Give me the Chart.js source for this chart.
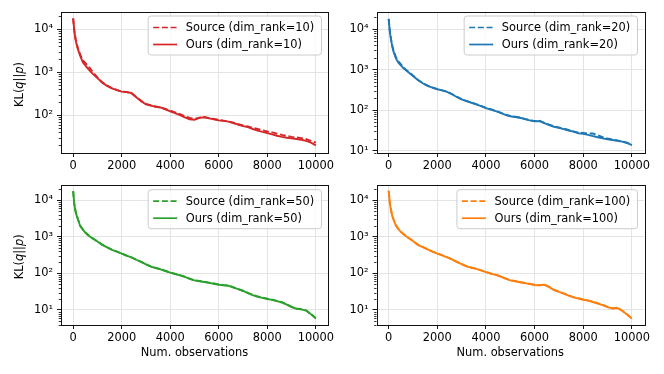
<!DOCTYPE html>
<html><head><meta charset="utf-8">
<script src="https://cdn.jsdelivr.net/npm/chart.js@4/dist/chart.umd.min.js"></script>
<style>
html,body{margin:0;padding:0;background:#fff;}
#wrap{position:relative;width:664px;height:374px;overflow:hidden;background:#fff;}
canvas{position:absolute;}
</style></head><body><div id="wrap">
<canvas id="c1" width="344" height="172" style="left:0;top:0;width:344px;height:172px"></canvas>
<canvas id="c3" width="344" height="202" style="left:0;top:172px;width:344px;height:202px"></canvas>
<canvas id="c2" width="332" height="172" style="left:332px;top:0;width:332px;height:172px"></canvas>
<canvas id="c4" width="332" height="202" style="left:332px;top:172px;width:332px;height:202px"></canvas>
</div>
<script>
// ---- data ----
const OBS = [0,50,100,150,200,300,400,500,600,700,800,
  1000,1200,1400,1600,1800,2000,2200,2400,2600,2800,
  3000,3200,3400,3600,3800,4000,4200,4400,4600,4800,
  5000,5200,5400,5600,5800,6000,6200,6400,6600,6800,
  7000,7200,7400,7600,7800,8000,8200,8400,8600,8800,
  9000,9200,9400,9600,9800,10000];
const X_TICKS = [0,2000,4000,6000,8000,10000];
const Y_TICKS = [10,100,1000,10000];
const RANKS = [10,20,50,100];
const X_TITLE = 'Num. observations';
const Y_TITLE_PARTS = [['KL(',false],['q',true],['||',false],['p',true],[')',false]];

const SOURCE_10 = [18000,9300,6000,4500,3600,2500,1900,1650,1420,1230,1030,
  760,585,490,430,388,358,347,328,268,218,
  184,171,160,154,140,128,117,106,96,87,
  82,88,91,86,82,78,75,72,67,62,
  58,55,51,48,45,42,40,37.5,35,33,
  31.5,30.5,29.5,28,25.5,23];
const OURS_10 = [18000,9000,5800,4300,3400,2350,1700,1450,1230,1060,930,
  730,570,485,425,385,355,345,330,262,212,
  180,168,157,152,137,124,112,101,90,81,
  79,87,90,85,81,76,74,71,66,61,
  56,53,48,44,41,38.5,36,33.5,31.5,30,
  29,28,27,25.5,23,20];
const SOURCE_20 = [18000,8800,5600,3900,3000,2050,1620,1380,1170,1020,910,
  720,565,470,405,364,333,310,288,252,216,
  189,170,155,142,128,115,106,96,87,78,
  72,69,66,61,57,54,55,49,44,40,
  37.5,35,32.5,30,28,27.5,26.5,26.5,24,21.5,
  20,19,18,17,15.8,14];
const OURS_20 = [18000,8500,5400,3700,2800,1900,1500,1280,1100,980,880,
  700,555,465,400,360,330,308,285,248,212,
  186,168,153,140,126,113,104,95,86,77,
  71,68,65,60,56,53,54,48,43,39,
  36.5,34,31.5,29.5,27,26,24.5,23,21.5,20.2,
  19.2,18.4,17.6,16.8,15.5,13.8];
const SOURCE_50 = [17500,7700,5000,3800,3000,1980,1600,1340,1150,1020,915,
  750,605,515,443,392,347,307,275,237,207,
  178,154,141,130,117,106,97,89,81,72,
  65,62,59,56,53,50,48,46.5,42,37.5,
  33.5,29.5,26,23.5,22,20.3,19,17.8,16.3,14.3,
  12.2,11,10.5,9.8,7.8,6];
const OURS_50 = [17500,7500,4800,3700,2900,1900,1550,1300,1120,1000,900,
  740,600,510,440,390,345,305,272,235,205,
  176,152,140,129,116,105,96,88,80,71,
  64,61,58,55,52,49,47,46,41,37,
  33,29,25.5,23,21.5,20,18.8,17.5,16,14,
  12,10.8,10.4,9.6,7.6,5.8];
const SOURCE_100 = [18000,8200,5300,3700,3000,2050,1640,1380,1200,1060,955,
  770,608,525,455,394,348,313,278,243,207,
  180,157,144,134,121,109,99,92,83,73,
  65,62,58,55,52,49,47.5,49.5,43,36,
  31.5,28.5,25,22.5,21,19.4,18.3,16.8,15.3,13.8,
  12.2,11.2,11.5,9.7,7.7,5.9];
const OURS_100 = [18000,8000,5200,3600,2900,2000,1600,1350,1180,1040,940,
  760,600,520,450,390,345,310,275,240,205,
  178,155,142,133,120,108,98,91,82,72,
  64,61,57,54,51,48,47,49,42,35,
  31,28,24.5,22,20.5,19,18,16.5,15,13.5,
  12,11,11.3,9.5,7.5,5.8];

// ---- style ----
const FONT = "'DejaVu Sans', sans-serif";
const FS = 11.4;
const GRID = '#e4e4e4';
const SUP = {0:'⁰',1:'¹',2:'²',3:'³',4:'⁴',5:'⁵'};

function decoPlugin(cfg){
  return {
    id:'deco',
    afterDraw(chart){
      const ctx = chart.ctx, a = chart.chartArea, ys = chart.scales.y;
      ctx.save();
      // minor log ticks
      ctx.strokeStyle = '#000'; ctx.lineWidth = 0.8;
      const lo = Math.floor(Math.log10(ys.min)), hi = Math.ceil(Math.log10(ys.max));
      for (let e = lo; e <= hi; e++) {
        for (let k = 2; k <= 9; k++) {
          const v = k * Math.pow(10, e);
          if (v < ys.min || v > ys.max) continue;
          const p = Math.round(ys.getPixelForValue(v)) + 0.5;
          ctx.beginPath(); ctx.moveTo(a.left, p); ctx.lineTo(a.left - 2.3, p); ctx.stroke();
        }
      }
      // frame
      ctx.lineWidth = 1; ctx.strokeStyle = '#111';
      ctx.strokeRect(Math.round(a.left) + 0.5, Math.round(a.top) + 0.5,
                     Math.round(a.right - a.left), Math.round(a.bottom - a.top));
      // legend
      ctx.font = FS + 'px ' + FONT;
      const ds = chart.data.datasets;
      const tw = Math.max(...ds.map(d => ctx.measureText(d.label).width));
      const bw = tw + 45, bh = 39;
      const bx = a.right - 6.5 - bw, by = a.top + cfg.legTop;
      ctx.beginPath();
      if (ctx.roundRect) ctx.roundRect(bx, by, bw, bh, 3); else ctx.rect(bx, by, bw, bh);
      ctx.fillStyle = 'rgba(255,255,255,0.8)'; ctx.fill();
      ctx.strokeStyle = '#cccccc'; ctx.lineWidth = 1; ctx.stroke();
      ds.forEach((d, i) => {
        const cy = by + 11.5 + i * 17;
        ctx.strokeStyle = d.borderColor; ctx.lineWidth = 1.7;
        ctx.setLineDash(d.borderDash || []);
        ctx.beginPath(); ctx.moveTo(bx + 5, cy); ctx.lineTo(bx + 29, cy); ctx.stroke();
        ctx.setLineDash([]);
        ctx.fillStyle = '#000'; ctx.textBaseline = 'middle'; ctx.textAlign = 'left';
        ctx.fillText(d.label, bx + 37.7, cy + 0.5);
      });
      // y title
      if (cfg.yTitle) {
        ctx.save();
        ctx.translate(20.5, (a.top + a.bottom) / 2 + 2);
        ctx.rotate(-Math.PI / 2);
        ctx.textBaseline = 'middle'; ctx.textAlign = 'left'; ctx.fillStyle = '#000';
        const fonts = Y_TITLE_PARTS.map(p => (p[1] ? 'italic ' : '') + FS + 'px ' + FONT);
        let total = 0;
        const widths = Y_TITLE_PARTS.map((p, i) => { ctx.font = fonts[i]; const w = ctx.measureText(p[0]).width; total += w; return w; });
        let x = -total / 2;
        Y_TITLE_PARTS.forEach((p, i) => { ctx.font = fonts[i]; ctx.fillText(p[0], x, 0); x += widths[i]; });
        ctx.restore();
      }
      // x title
      if (cfg.xTitle) {
        ctx.font = FS + 'px ' + FONT; ctx.fillStyle = '#000';
        ctx.textAlign = 'center'; ctx.textBaseline = 'middle';
        ctx.fillText(X_TITLE, (a.left + a.right) / 2, cfg.xTitleY);
      }
      ctx.restore();
    }
  };
}

function makeChart(id, src, ours, color, rank, cfg){
  new Chart(document.getElementById(id), {
    type: 'line',
    data: { datasets: [
      { label: 'Source (dim_rank=' + rank + ')', data: OBS.map((x, i) => ({x: x, y: src[i]})),
        borderColor: color, borderWidth: 1.9, borderDash: [6, 2.7], pointRadius: 0, tension: 0, fill: false, order: 1 },
      { label: 'Ours (dim_rank=' + rank + ')', data: OBS.map((x, i) => ({x: x, y: ours[i]})),
        borderColor: color, borderWidth: 1.9, pointRadius: 0, tension: 0, fill: false, order: 0 }
    ]},
    options: {
      responsive: false, animation: false, devicePixelRatio: 1,
      layout: { padding: { top: cfg.padTop, right: cfg.padRight, left: 0, bottom: 0 } },
      plugins: { legend: { display: false }, tooltip: { enabled: false } },
      scales: {
        x: { type: 'linear', min: -500, max: 10500,
          afterBuildTicks: s => { s.ticks = X_TICKS.map(v => ({value: v})); },
          afterFit: s => { s.height = cfg.xH; s.paddingLeft = 0; s.paddingRight = 0; },
          grid: { color: GRID, lineWidth: 1, tickLength: 4, tickColor: '#000', tickWidth: 0.9 },
          border: { display: false },
          ticks: { color: '#000', font: { family: FONT, size: FS }, padding: 2, maxRotation: 0, autoSkip: false,
                   callback: v => String(v) } },
        y: { type: 'logarithmic', min: cfg.yMin, max: cfg.yMax,
          afterBuildTicks: s => { s.ticks = Y_TICKS.filter(v => v >= s.min && v <= s.max).map(v => ({value: v})); },
          afterFit: s => { s.width = cfg.yW; s.paddingTop = 0; s.paddingBottom = 0; },
          grid: { color: GRID, lineWidth: 1, tickLength: 4, tickColor: '#000', tickWidth: 0.9 },
          border: { display: false },
          ticks: { color: '#000', font: { family: FONT, size: FS }, padding: 4, autoSkip: false,
                   callback: v => '10' + SUP[Math.round(Math.log10(v))] } }
      }
    },
    plugins: [decoPlugin(cfg)]
  });
}

makeChart('c1', SOURCE_10, OURS_10, '#d62728', RANKS[0],
  { padTop: 12, padRight: 16, yW: 61, xH: 19, yMin: Math.pow(10, 1.123), yMax: Math.pow(10, 4.402), yTitle: true, xTitle: false, legTop: 4 });
makeChart('c2', SOURCE_20, OURS_20, '#1f77b4', RANKS[1],
  { padTop: 12, padRight: 20, yW: 44.5, xH: 19, yMin: Math.pow(10, 0.943), yMax: Math.pow(10, 4.427), yTitle: false, xTitle: false, legTop: 4 });
makeChart('c3', SOURCE_50, OURS_50, '#2ca02c', RANKS[2],
  { padTop: 12.7, padRight: 16, yW: 61, xH: 49, yMin: Math.pow(10, 0.59), yMax: Math.pow(10, 4.42), yTitle: true, xTitle: true, xTitleY: 180.7, legTop: 5 });
makeChart('c4', SOURCE_100, OURS_100, '#ff7f0e', RANKS[3],
  { padTop: 12.7, padRight: 20, yW: 44.5, xH: 49, yMin: Math.pow(10, 0.59), yMax: Math.pow(10, 4.42), yTitle: false, xTitle: true, xTitleY: 180.7, legTop: 5 });
</script>
</body></html>
